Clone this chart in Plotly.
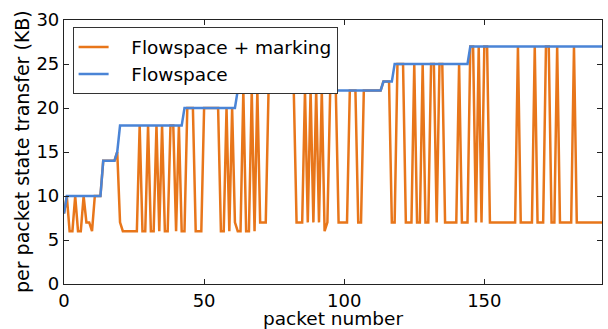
import plotly.graph_objects as go

# packet index 0..192
packets = list(range(193))

flowspace = [
    8, 10, 10, 10, 10, 10, 10, 10, 10, 10,
    10, 10, 10, 10, 14, 14, 14, 14, 14, 15,
    18, 18, 18, 18, 18, 18, 18, 18, 18, 18,
    18, 18, 18, 18, 18, 18, 18, 18, 18, 18,
    18, 18, 18, 20, 20, 20, 20, 20, 20, 20,
    20, 20, 20, 20, 20, 20, 20, 20, 20, 20,
    20, 20, 22, 22, 22, 22, 22, 22, 22, 22,
    22, 22, 22, 22, 22, 22, 22, 22, 22, 22,
    22, 22, 22, 22, 22, 22, 22, 22, 22, 22,
    22, 22, 22, 22, 22, 22, 22, 22, 22, 22,
    22, 22, 22, 22, 22, 22, 22, 22, 22, 22,
    22, 22, 22, 22, 23, 23, 23, 23, 25, 25,
    25, 25, 25, 25, 25, 25, 25, 25, 25, 25,
    25, 25, 25, 25, 25, 25, 25, 25, 25, 25,
    25, 25, 25, 25, 25, 27, 27, 27, 27, 27,
    27, 27, 27, 27, 27, 27, 27, 27, 27, 27,
    27, 27, 27, 27, 27, 27, 27, 27, 27, 27,
    27, 27, 27, 27, 27, 27, 27, 27, 27, 27,
    27, 27, 27, 27, 27, 27, 27, 27, 27, 27,
    27, 27, 27,
]

flowspace_marking = [
    8, 10, 6, 6, 10, 6, 6, 10, 7, 7,
    6, 10, 10, 10, 14, 14, 14, 14, 14, 15,
    7, 6, 6, 6, 6, 6, 6, 18, 6, 6,
    18, 6, 6, 18, 6, 18, 6, 6, 18, 18,
    6, 18, 6, 6, 20, 20, 20, 6, 6, 6,
    20, 20, 20, 20, 20, 20, 6, 6, 20, 6,
    20, 7, 6, 6, 22, 6, 6, 22, 6, 22,
    7, 7, 7, 22, 22, 22, 22, 22, 22, 22,
    22, 22, 22, 7, 7, 7, 22, 7, 22, 7,
    22, 7, 22, 6, 7, 22, 22, 22, 7, 7,
    7, 7, 22, 22, 22, 7, 7, 22, 22, 22,
    22, 22, 22, 22, 23, 23, 23, 7, 7, 25,
    25, 25, 7, 7, 7, 25, 7, 7, 25, 7,
    7, 25, 25, 7, 25, 25, 7, 7, 7, 7,
    7, 25, 7, 7, 7, 27, 27, 7, 27, 7,
    27, 27, 7, 7, 7, 7, 7, 7, 7, 7,
    7, 7, 27, 7, 7, 7, 7, 7, 27, 7,
    7, 7, 27, 27, 7, 7, 27, 7, 7, 7,
    7, 7, 27, 7, 7, 7, 7, 7, 7, 7,
    7, 7, 7,
]

x_ticks = [0, 50, 100, 150]
y_ticks = [0, 5, 10, 15, 20, 25, 30]

FONT = "DejaVu Sans"
ORANGE = "#e8761a"
BLUE = "#4a84d6"
NB = "\u00a0"

fig = go.Figure()
fig.add_trace(go.Scatter(
    x=packets, y=flowspace_marking, mode="lines",
    name=NB * 3 + "Flowspace + marking",
    line=dict(color=ORANGE, width=2.5),
))
fig.add_trace(go.Scatter(
    x=packets, y=flowspace, mode="lines",
    name=NB * 3 + "Flowspace",
    line=dict(color=BLUE, width=2.5),
))

axis_common = dict(
    showgrid=False, zeroline=False, automargin=False,
    showline=True, linecolor="#222222", linewidth=1.2, mirror="ticks",
    ticks="inside", ticklen=5, tickwidth=1, tickcolor="#222222",
    tickfont=dict(family=FONT, size=18, color="black"),
)

fig.update_layout(
    width=608, height=329,
    margin=dict(l=64, r=6, t=20, b=45),
    paper_bgcolor="white", plot_bgcolor="white",
    font=dict(family=FONT, size=18, color="black"),
    showlegend=True,
    legend=dict(
        x=0.016, y=0.972, xanchor="left", yanchor="top",
        bgcolor="white", bordercolor="#333333", borderwidth=1,
        font=dict(family=FONT, size=18.5, color="black"),
        itemwidth=30, tracegroupgap=0,
    ),
    xaxis=dict(range=[0, 192], tickvals=x_ticks, **axis_common),
    yaxis=dict(range=[0, 30], tickvals=y_ticks, **axis_common),
    annotations=[
        dict(text="packet number", xref="paper", yref="paper",
             x=0.5, y=-0.129, xanchor="center", yanchor="middle",
             showarrow=False, font=dict(family=FONT, size=18.5, color="black")),
        dict(text="per packet state transfer (KB)", xref="paper", yref="paper",
             x=-0.078, y=0.5, xanchor="center", yanchor="middle", textangle=-90,
             showarrow=False, font=dict(family=FONT, size=19, color="black")),
    ],
)

fig.write_html(
    "out.html",
    config={"displayModeBar": False},
    post_script="document.body.style.margin='0';document.body.style.padding='0';",
)
